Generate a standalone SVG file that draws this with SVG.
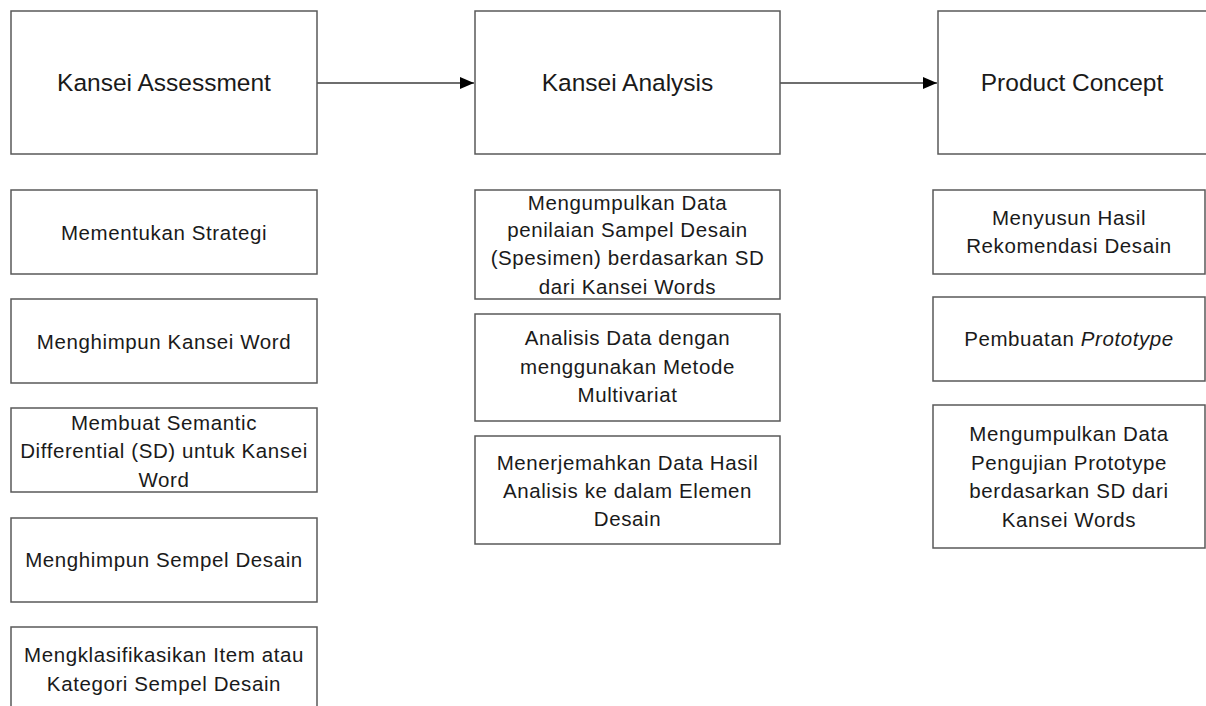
<svg xmlns="http://www.w3.org/2000/svg" width="1206" height="706" viewBox="0 0 1206 706">
<style>
rect{fill:#fff;stroke:#595959;stroke-width:1.5}
text{font-family:"Liberation Sans",Arial,sans-serif;fill:#1a1a1a;text-anchor:middle}
.h{font-size:24.5px}
.b{font-size:20.5px;letter-spacing:0.6px}
.c{stroke:#6e6e6e;stroke-width:2;fill:none}
</style>
<defs>
<marker id="ar" viewBox="0 0 14 12" refX="14" refY="6" markerWidth="14" markerHeight="12" markerUnits="userSpaceOnUse" orient="auto">
<path d="M0,0L14,6L0,12z" fill="#000"/>
</marker>
</defs>
<rect x="0" y="0" width="1206" height="706" style="fill:#fff;stroke:none"/>
<g id="connectors">
<line class="c" x1="317" y1="83" x2="474" y2="83" marker-end="url(#ar)"/>
<line class="c" x1="780" y1="83" x2="937" y2="83" marker-end="url(#ar)"/>
</g>
<g id="kansei-assessment"><rect x="11" y="11" width="306" height="143"/><text class="h" x="164" y="91">Kansei Assessment</text></g>
<g id="kansei-analysis"><rect x="475" y="11" width="305" height="143"/><text class="h" x="627.5" y="91">Kansei Analysis</text></g>
<g id="product-concept"><rect x="938" y="11" width="272" height="143"/><text class="h" x="1072" y="91">Product Concept</text></g>

<g id="a1"><rect x="11" y="190" width="306" height="84"/><text class="b" x="164" y="240">Mementukan Strategi</text></g>
<g id="a2"><rect x="11" y="299" width="306" height="84"/><text class="b" x="164" y="349">Menghimpun Kansei Word</text></g>
<g id="a3"><rect x="11" y="408" width="306" height="84"/><text class="b" x="164"><tspan x="164" y="430">Membuat Semantic</tspan><tspan x="164" y="458">Differential (SD) untuk Kansei</tspan><tspan x="164" y="487">Word</tspan></text></g>
<g id="a4"><rect x="11" y="518" width="306" height="84"/><text class="b" x="164" y="567">Menghimpun Sempel Desain</text></g>
<g id="a5"><rect x="11" y="627" width="306" height="90"/><text class="b" x="164"><tspan x="164" y="662">Mengklasifikasikan Item atau</tspan><tspan x="164" y="691">Kategori Sempel Desain</tspan></text></g>

<g id="b1"><rect x="475" y="190" width="305" height="109"/><text class="b"><tspan x="627.5" y="210">Mengumpulkan Data</tspan><tspan x="627.5" y="237">penilaian Sampel Desain</tspan><tspan x="627.5" y="265">(Spesimen) berdasarkan SD</tspan><tspan x="627.5" y="294">dari Kansei Words</tspan></text></g>
<g id="b2"><rect x="475" y="314" width="305" height="107"/><text class="b"><tspan x="627.5" y="345">Analisis Data dengan</tspan><tspan x="627.5" y="374">menggunakan Metode</tspan><tspan x="627.5" y="402">Multivariat</tspan></text></g>
<g id="b3"><rect x="475" y="436" width="305" height="108"/><text class="b"><tspan x="627.5" y="470">Menerjemahkan Data Hasil</tspan><tspan x="627.5" y="498">Analisis ke dalam Elemen</tspan><tspan x="627.5" y="526">Desain</tspan></text></g>

<g id="c1"><rect x="933" y="190" width="272" height="84"/><text class="b"><tspan x="1069" y="225">Menyusun Hasil</tspan><tspan x="1069" y="253">Rekomendasi Desain</tspan></text></g>
<g id="c2"><rect x="933" y="297" width="272" height="84"/><text class="b" x="1069" y="346">Pembuatan <tspan font-style="italic">Prototype</tspan></text></g>
<g id="c3"><rect x="933" y="405" width="272" height="143"/><text class="b"><tspan x="1069" y="441">Mengumpulkan Data</tspan><tspan x="1069" y="470">Pengujian Prototype</tspan><tspan x="1069" y="498">berdasarkan SD dari</tspan><tspan x="1069" y="527">Kansei Words</tspan></text></g>
</svg>
